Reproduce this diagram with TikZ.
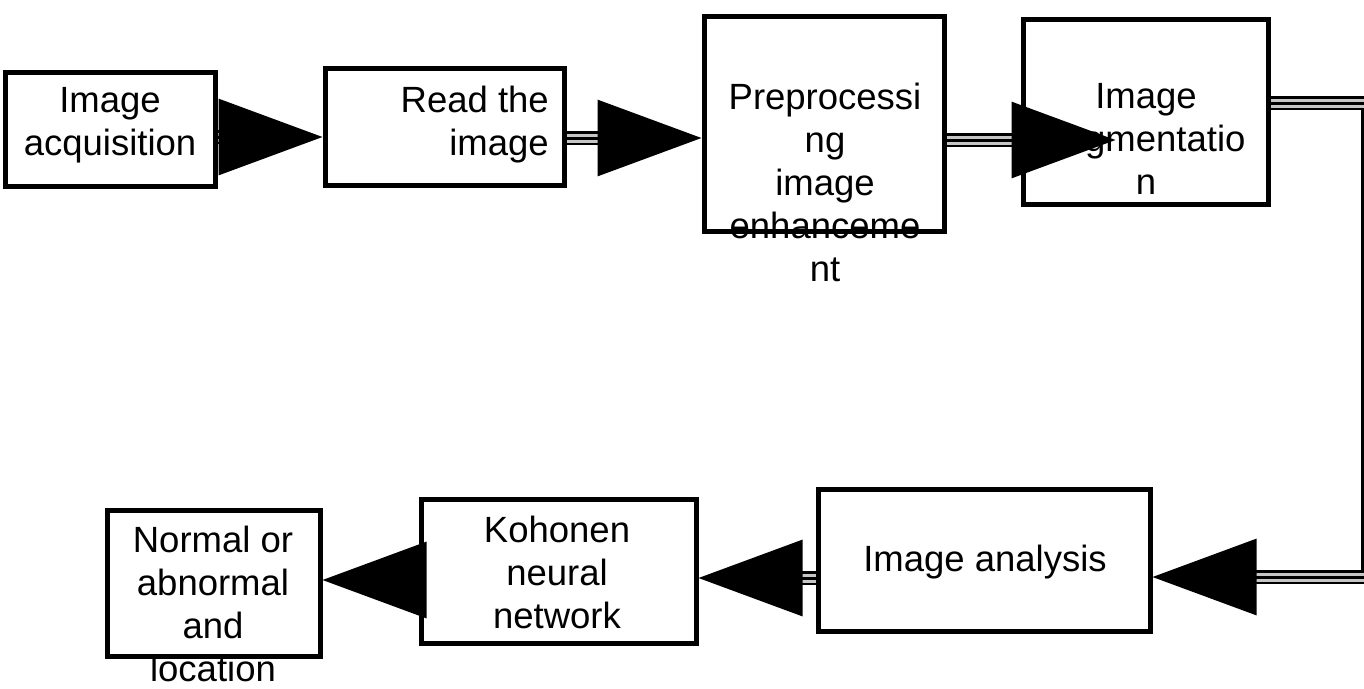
\documentclass[tikz,border=0pt]{standalone}
\usepackage{fontspec}
\setmainfont{Liberation Sans}
\usetikzlibrary{arrows.meta,calc}
\begin{document}
\begin{tikzpicture}[x=1pt,y=-1pt,
  box/.style={draw, line width=5pt, inner sep=0pt},
  lbl/.style={align=center, inner sep=0pt, font=\fontsize{36.5}{43}\selectfont},
  dbl/.style={line width=2.5pt, double=gray!45, double distance=9pt, shorten >=95pt},
  head/.style={line width=3pt, -{Triangle[length=104pt,width=76pt]}}]
\useasboundingbox (0,0) rectangle (1364,688);

% process boxes
\node[box, minimum width=210pt, minimum height=114pt] (b1) at (110,129) {};
\node[box, minimum width=239pt, minimum height=117pt] (b2) at (444.5,126.5) {};
\node[box, minimum width=240pt, minimum height=215pt] (b3) at (824,123.5) {};
\node[box, minimum width=245pt, minimum height=185pt] (b4) at (1145.5,111.5) {};
\node[box, minimum width=332pt, minimum height=142pt] (b5) at (984,560) {};
\node[box, minimum width=275pt, minimum height=144pt] (b6) at (558.5,571.5) {};
\node[box, minimum width=213pt, minimum height=146pt] (b7) at (213.5,583) {};

% box texts (not clipped by the boxes)
\node[lbl] (t1) at (110,125) {Image\\acquisition};
\node[lbl, align=right, anchor=east] (t2) at (549,125) {Read the\\image};
\node[lbl] (t3) at (825,182) {Preprocessi\\ng\\image\\enhanceme\\nt};
\node[lbl] (t4) at (1146,139) {Image\\segmentatio\\n};
\node[lbl] (t5) at (985,562) {Image analysis};
\node[lbl] (t6) at (557,572) {Kohonen\\neural\\network};
\node[lbl] (t7) at (213,604) {Normal or\\abnormal\\and\\location};

% connectors
\coordinate (c3) at ($(b4.west |- 0,140)+(95,0)$);
\coordinate (turn) at (1368,577);

\draw[dbl] (b1.east |- 0,137) -- (b2.west |- 0,137);
\draw[head] (b1.east |- 0,137) -- (b2.west |- 0,137);

\draw[dbl] (b2.east |- 0,138) -- (b3.west |- 0,138);
\draw[head] (b2.east |- 0,138) -- (b3.west |- 0,138);

\draw[dbl] (b3.east |- 0,140) -- (c3);
\draw[head] (b3.east |- 0,140) -- (c3);

\draw[dbl] (b4.east |- 0,103) -| (turn) -- (b5.east |- turn);
\draw[head] (b4.east |- 0,103) -| (turn) -- (b5.east |- turn);

\draw[dbl] (b5.west |- 0,578) -- (b6.east |- 0,578);
\draw[head] (b5.west |- 0,578) -- (b6.east |- 0,578);

\draw[dbl] (b6.west |- 0,580) -- (b7.east |- 0,580);
\draw[head] (b6.west |- 0,580) -- (b7.east |- 0,580);
\end{tikzpicture}
\end{document}
